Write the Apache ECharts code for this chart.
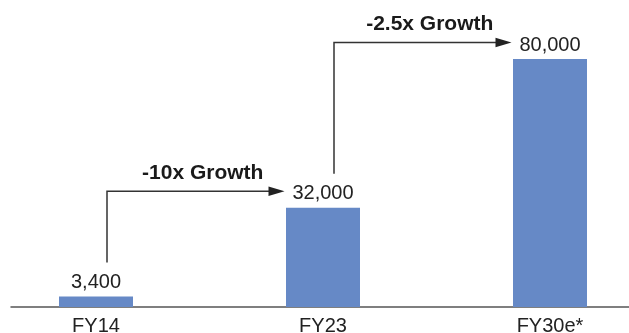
<!DOCTYPE html>
<html>
<head>
<meta charset="utf-8">
<script src="https://cdn.jsdelivr.net/npm/echarts@6/dist/echarts.min.js"></script>
<style>html,body{margin:0;padding:0;background:#fff}#c{width:629px;height:333px}</style>
</head>
<body>
<div id="c"></div>
<script>
const categories = ['FY14', 'FY23', 'FY30e*'];
const values = [3400, 32000, 80000];
const growthLabels = ['-10x Growth', '-2.5x Growth'];
const growthPairs = [[0, 1], [1, 2]];

const FONT = '"Liberation Sans", Arial, Helvetica, sans-serif';
const BAR = '#6689c6';

function fmt(v) { return String(v).replace(/\B(?=(\d{3})+(?!\d))/g, ','); }

const chart = echarts.init(document.getElementById('c'), null, {renderer: 'canvas'});
chart.setOption({
  animation: false,
  backgroundColor: '#fff',
  grid: [
    {left: -17.5, width: 681, top: 59, bottom: 26, containLabel: false, outerBoundsMode: 'none'},
    {left: 11, right: 0, top: 59, bottom: 26, containLabel: false, outerBoundsMode: 'none'}
  ],
  xAxis: [
    {
      type: 'category', gridIndex: 0, data: categories,
      axisLine: {show: false}, axisTick: {show: false},
      axisLabel: {fontFamily: FONT, fontSize: 20, color: '#222', margin: 9}
    },
    {
      type: 'value', gridIndex: 1, min: 0, max: 1,
      axisLine: {show: true, lineStyle: {color: '#555', width: 1.5}},
      axisTick: {show: false}, axisLabel: {show: false}, splitLine: {show: false}
    }
  ],
  yAxis: [
    {type: 'value', gridIndex: 0, min: 0, max: 80000, show: false},
    {type: 'value', gridIndex: 1, min: 0, max: 1, show: false}
  ],
  series: [
    {
      type: 'bar', xAxisIndex: 0, yAxisIndex: 0,
      data: values, barWidth: 74,
      itemStyle: {color: BAR},
      label: {
        show: true, position: 'top', distance: 4,
        fontFamily: FONT, fontSize: 20, color: '#222',
        formatter: p => fmt(p.value)
      }
    },
    {
      type: 'custom', xAxisIndex: 0, yAxisIndex: 0, clip: false,
      data: growthPairs,
      renderItem: function (params, api) {
        const pair = growthPairs[params.dataIndex];
        const a = pair[0], b = pair[1];
        const pa = api.coord([a, values[a]]);
        const pb = api.coord([b, values[b]]);
        const sx = pa[0] + 11, sy = pa[1] - 34;
        const ey = pb[1] - 16.5, ex = pb[0] - 38.5;
        const hl = 16, hh = 4.8;
        return {
          type: 'group',
          children: [
            {type: 'polyline', shape: {points: [[sx, sy], [sx, ey], [ex - hl + 1, ey]]},
             style: {stroke: '#333', lineWidth: 1.5, fill: null}},
            {type: 'polygon', shape: {points: [[ex, ey], [ex - hl, ey - hh], [ex - hl, ey + hh]]},
             style: {fill: '#222'}},
            {type: 'text', x: (sx + ex) / 2 + 7, y: ey - 18,
             style: {text: growthLabels[params.dataIndex], fontFamily: FONT, fontSize: 21,
                     fontWeight: 'bold', fill: '#1a1a1a', align: 'center', verticalAlign: 'middle'}}
          ]
        };
      }
    }
  ]
});
</script>
</body>
</html>
